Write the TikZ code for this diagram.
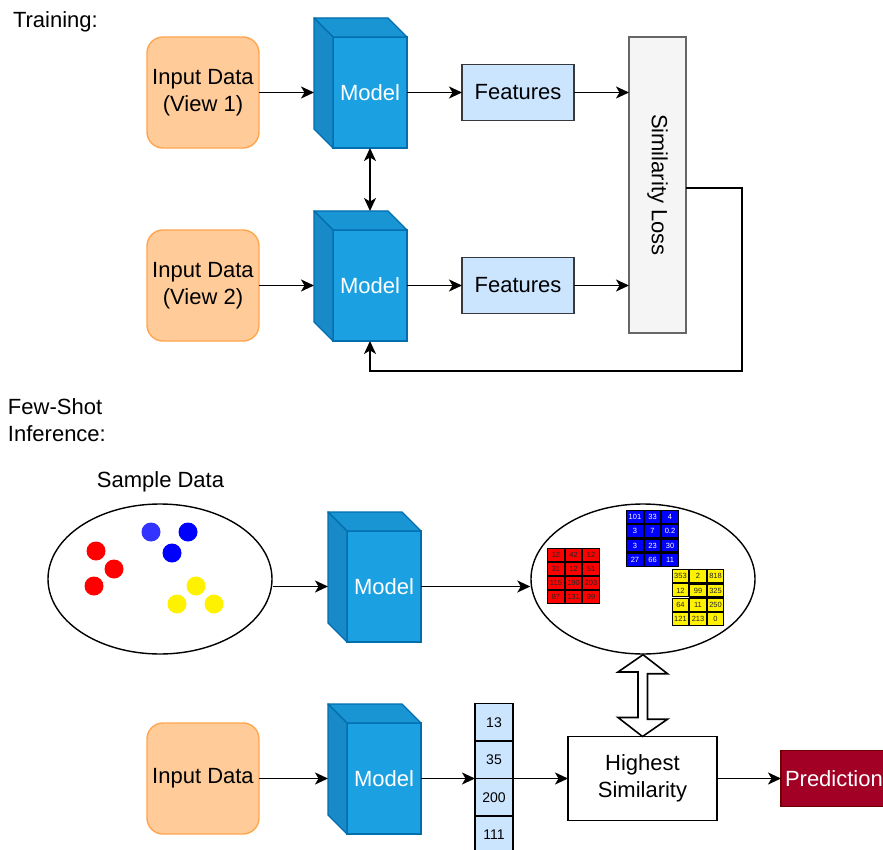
\documentclass[tikz,border=0pt]{standalone}
\usepackage{fontspec}
\setmainfont{Liberation Sans}
\usetikzlibrary{arrows.meta,calc,matrix,shapes.geometric}

\definecolor{peach}{HTML}{FFCC99}
\definecolor{peachline}{HTML}{FFA54F}
\definecolor{cubefront}{HTML}{1BA1E2}
\definecolor{cubeline}{HTML}{006EAF}
\definecolor{cubetop}{HTML}{1A95D4}
\definecolor{cubeside}{HTML}{188AC8}
\definecolor{featfill}{HTML}{CCE5FF}
\definecolor{featline}{HTML}{36393D}
\definecolor{lossfill}{HTML}{F5F5F5}
\definecolor{lossline}{HTML}{666666}
\definecolor{predfill}{HTML}{A20025}
\definecolor{predline}{HTML}{6F0000}
\definecolor{dotblue}{HTML}{3333FF}

\tikzset{
  base/.style={font=\fontsize{22}{26.5}\selectfont, align=center, inner sep=0pt, outer sep=0pt},
  inbox/.style={base, draw=peachline, fill=peach, rounded corners=16pt,
    minimum width=112pt, minimum height=111pt, line width=1.4pt},
  cubefacefront/.style={base, draw=cubeline, fill=cubefront, text=white,
    minimum width=74pt, minimum height=111pt, line width=1.4pt},
  featbox/.style={base, draw=featline, fill=featfill, minimum width=112pt,
    minimum height=56pt, line width=1.4pt},
  lossbox/.style={base, draw=lossline, fill=lossfill, minimum width=57pt,
    minimum height=296pt, line width=1.4pt},
  cloud/.style={ellipse, draw=black, line width=1.4pt, inner sep=0pt,
    minimum width=224pt, minimum height=150pt},
  simbox/.style={base, draw=black, fill=white, minimum width=149pt,
    minimum height=84pt, line width=1.4pt},
  predbox/.style={base, draw=predline, fill=predfill, text=white,
    minimum width=112pt, minimum height=56pt, line width=1.4pt,
    text width=104pt, align=left},
  vcell/.style={base, font=\fontsize{14}{16}\selectfont, draw=black, fill=featfill,
    minimum width=38pt, minimum height=37.5pt, line width=1.4pt},
  mcell/.style={draw=black, line width=1.2pt, inner sep=0pt, outer sep=0pt,
    minimum width=16.33pt, minimum height=13pt,
    font=\fontsize{7.5}{8}\selectfont},
  tip/.tip={Stealth[length=13pt,width=12pt,inset=3.5pt]},
  arr/.style={-tip, line width=1.7pt},
  arrboth/.style={tip-tip, line width=1.7pt},
  hollow/.style={draw=black, fill=white, line width=1.6pt, line join=miter},
  cubeback/.style={draw=cubeline, line width=1.4pt, line join=round},
}

\begin{document}
\begin{tikzpicture}[x=1pt, y=-1pt]
  \fill[white] (0,0) rectangle (883,850);
  \useasboundingbox (0,0) rectangle (883,850);

  % ---------- training ----------
  \node[base, anchor=base west] (ttrain) at (13,27.5) {Training:};

  \node[inbox] (in1) at (203,92.5) {Input Data\\(View 1)};
  \node[inbox] (in2) at (203,285.5) {Input Data\\(View 2)};

  \node[cubefacefront] (m1) at (370,92.5) {Model};
  \node[cubefacefront] (m2) at (370,285.5) {Model};

  \node[featbox] (f1) at (518,92.5) {Features};
  \node[featbox] (f2) at (518,285.5) {Features};

  \node[lossbox] (loss) at (657.5,185) {\rotatebox{-90}{Similarity Loss}};

  % ---------- few-shot inference ----------
  \node[base, align=left, anchor=north west] (tfew) at (8,399) {Few-Shot\\Inference:};
  \node[base, anchor=base] (tsample) at (160.5,487) {Sample Data};

  \node[cloud] (e1) at (160,579) {};
  \node[cloud] (e2) at (643,579) {};

  \node[cubefacefront] (m3) at (384,586.5) {Model};
  \node[cubefacefront] (m4) at (384,778.5) {Model};

  \node[inbox] (in4) at (203,778.5) {Input Data};

  \node[vcell] (v1) at (494,722.25) {13};
  \node[vcell] (v2) at (494,759.75) {35};
  \node[vcell] (v3) at (494,797.25) {200};
  \node[vcell] (v4) at (494,834.75) {111};

  \node[simbox] (hs) at (642.5,778.5) {Highest\\Similarity};
  \node[predbox] (pred) at (837,778.5) {Prediction};

  % depth faces of the model cubes
  \foreach \m in {m1,m2,m3,m4}{
    \draw[cubeback, fill=cubetop] (\m.north west) -- ++(-19,-19)
      -- ($(\m.north east)+(-19,-19)$) -- (\m.north east) -- cycle;
    \draw[cubeback, fill=cubeside] (\m.north west) -- ++(-19,-19)
      -- ($(\m.south west)+(-19,-19)$) -- (\m.south west) -- cycle;
  }

  % sample points
  \fill[red] (96,551) circle[radius=9.5pt];
  \fill[red] (114,569) circle[radius=9.5pt];
  \fill[red] (94,586) circle[radius=9.5pt];
  \fill[dotblue] (151,532) circle[radius=9.5pt];
  \fill[blue] (188,532) circle[radius=9.5pt];
  \fill[blue] (172,553) circle[radius=9.5pt];
  \fill[yellow] (196,586) circle[radius=9.5pt];
  \fill[yellow] (177,604) circle[radius=9.5pt];
  \fill[yellow] (214,604) circle[radius=9.5pt];

  % class feature matrices
  \matrix[matrix of nodes, nodes={mcell, fill=red, text=black!85},
    column sep=0pt, row sep=0pt, inner sep=0pt] (mr) at (573.5,576) {
    12 & 42 & 12 \\ 31 & 12 & 51 \\ 115 & 190 & 203 \\ 87 & 131 & 99 \\};
  \matrix[matrix of nodes, nodes={mcell, fill=blue, text=white},
    column sep=0pt, row sep=0pt, inner sep=0pt] (mb) at (652.5,538.5) {
    101 & 33 & 4 \\ 3 & 7 & 0.2 \\ 3 & 23 & 30 \\ 27 & 66 & 11 \\};
  \matrix[matrix of nodes, nodes={mcell, fill=yellow, text=black!85},
    column sep=0pt, row sep=0pt, inner sep=0pt] (my) at (698,597.5) {
    353 & 2 & 818 \\ 12 & 99 & 325 \\ 64 & 11 & 250 \\ 121 & 213 & 0 \\};

  % ---------- connectors ----------
  \draw[arr, shorten >=19pt] (in1) -- (m1);
  \draw[arr, shorten >=19pt] (in2) -- (m2);
  \draw[arr] (m1) -- (f1);
  \draw[arr] (m2) -- (f2);
  \draw[arr] (f1) -- (f1 -| loss.west);
  \draw[arr] (f2) -- (f2 -| loss.west);
  \draw[arrboth, shorten >=19pt] (m1) -- (m2);
  \coordinate (fb) at (742,371);
  \draw[arr] ($(loss.east)+(0,3)$) -| (fb) -| (m2.south);

  \draw[arr, shorten >=19pt] (m3 -| e1.east) -- (m3);
  \draw[arr] (m3) -- (m3 -| e2.west);
  \draw[arr, shorten >=19pt] (in4) -- (m4);
  \draw[arr] (m4) -- (m4 -| v1.west);
  \draw[arr] (hs -| v1.east) -- (hs);
  \draw[arr] (hs) -- (pred);

  % two-way comparison between the stored features and the result
  \draw[hollow] (e2.south) -- ++(24.5,19) -- ++(-20,0) -- ++(0,45.5)
    -- ++(20,0) -- (hs.north) -- ++(-24.5,-19) -- ++(20,0) -- ++(0,-45.5)
    -- ++(-20,0) -- cycle;
\end{tikzpicture}
\end{document}
